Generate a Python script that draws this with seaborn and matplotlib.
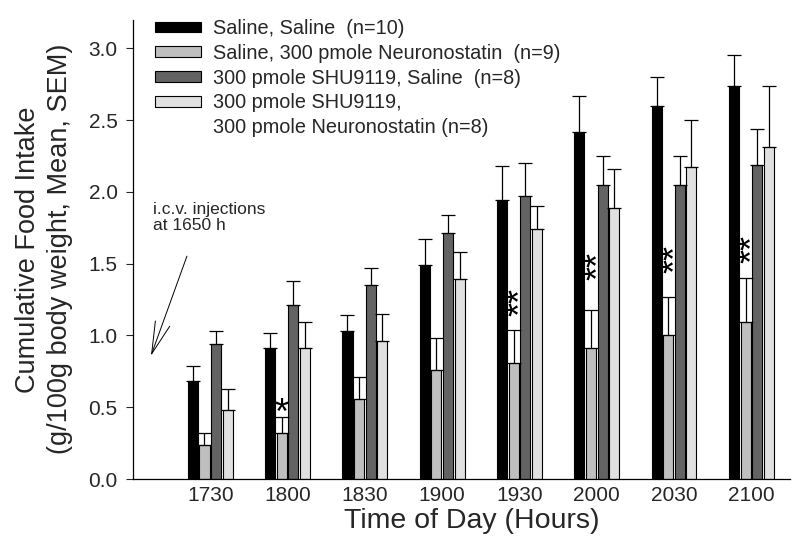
import numpy as np
import pandas as pd
import matplotlib
matplotlib.use('Agg')
import matplotlib.pyplot as plt
from matplotlib.patches import Patch
import seaborn as sns

# data
times = ['1730', '1800', '1830', '1900', '1930', '2000', '2030', '2100']
group_keys = ['sal_sal', 'sal_nst', 'shu_sal', 'shu_nst']
legend_labels = ['Saline, Saline  (n=10)',
                 'Saline, 300 pmole Neuronostatin  (n=9)',
                 '300 pmole SHU9119, Saline  (n=8)',
                 '300 pmole SHU9119,']
legend_extra = '300 pmole Neuronostatin (n=8)'
colors = ['#000000', '#bfbfbf', '#636363', '#e0e0e0']

sal_sal = [0.68, 0.91, 1.03, 1.49, 1.94, 2.42, 2.60, 2.74]
sal_sal_sem = [0.11, 0.11, 0.11, 0.18, 0.24, 0.25, 0.20, 0.21]
sal_nst = [0.24, 0.32, 0.56, 0.76, 0.81, 0.91, 1.00, 1.09]
sal_nst_sem = [0.08, 0.11, 0.15, 0.22, 0.23, 0.27, 0.27, 0.31]
shu_sal = [0.94, 1.21, 1.35, 1.71, 1.97, 2.05, 2.05, 2.19]
shu_sal_sem = [0.09, 0.17, 0.12, 0.13, 0.23, 0.20, 0.20, 0.25]
shu_nst = [0.48, 0.91, 0.96, 1.39, 1.74, 1.89, 2.17, 2.31]
shu_nst_sem = [0.15, 0.18, 0.19, 0.19, 0.16, 0.27, 0.33, 0.43]

# significance marks over the Saline/Neuronostatin bars
sig_marks = ['', '*', '', '', '**', '**', '**', '**']
sig_y = [0, 0.50, 0, 0, 1.23, 1.48, 1.53, 1.60]

means = [sal_sal, sal_nst, shu_sal, shu_nst]
sems = [sal_sal_sem, sal_nst_sem, shu_sal_sem, shu_nst_sem]

df = pd.DataFrame({
    'time': times * 4,
    'value': sum(means, []),
    'group': [g for g in group_keys for _ in times],
})

sns.set_style('white')
plt.rcParams['font.family'] = ['Liberation Sans', 'DejaVu Sans']

fig = plt.figure(figsize=(8, 5.48), dpi=100)
ax = fig.add_axes([0.16625, 0.1259, 0.82125, 0.8385])

sns.barplot(data=df, x='time', y='value', hue='group', hue_order=group_keys,
            palette=colors, width=0.6, gap=0.13, errorbar=None,
            edgecolor='black', linewidth=0.8, legend=False, ax=ax)

# upward-only SEM bars
for cont, sem in zip(ax.containers, sems):
    xs = [b.get_x() + b.get_width() / 2 for b in cont]
    hs = [b.get_height() for b in cont]
    ax.errorbar(xs, hs, yerr=[np.zeros(len(sem)), sem], fmt='none',
                ecolor='black', elinewidth=0.9, capsize=5, capthick=0.9, zorder=3)

# asterisks
for bar, mark, y in zip(ax.containers[1], sig_marks, sig_y):
    xc = bar.get_x() + bar.get_width() / 2
    if mark == '**':
        ax.text(xc + 0.11, y, mark, rotation=90, ha='center', va='center',
                fontsize=26, color='black')
    elif mark == '*':
        ax.text(xc, y - 0.05, mark, ha='center', va='center',
                fontsize=26, color='black')

ax.set_xlim(-1, 7.5)
ax.set_ylim(0, 3.2)
ax.set_yticks([0, 0.5, 1.0, 1.5, 2.0, 2.5, 3.0])
ax.set_yticklabels(['0.0', '0.5', '1.0', '1.5', '2.0', '2.5', '3.0'])
ax.tick_params(axis='y', length=5, width=0.8, pad=6, labelsize=15, direction='out', left=True)
ax.tick_params(axis='x', length=0, pad=5, labelsize=15)
for s in ['top', 'right']:
    ax.spines[s].set_visible(False)
for s in ['left', 'bottom']:
    ax.spines[s].set_color('black')
    ax.spines[s].set_linewidth(0.9)

ax.set_xlabel('Time of Day (Hours)', fontsize=20.5, labelpad=2)
ax.xaxis.label.set_x(0.516)
ax.set_ylabel('Cumulative Food Intake\n(g/100g body weight, Mean, SEM)', fontsize=19.5,
              labelpad=11, linespacing=1.3)

# injection note
ax.text(-0.74, 1.93, 'i.c.v. injections\nat 1650 h', fontsize=12.5, ha='left', va='top',
        linespacing=1.12)
ax.annotate('', xy=(-0.78, 0.84), xytext=(-0.29, 1.57),
            arrowprops=dict(arrowstyle='->,head_length=2.1,head_width=0.5',
                            lw=0.7, color='black', mutation_scale=11))

handles = [Patch(facecolor=c, edgecolor='black', linewidth=0.8) for c in colors]
handles.append(Patch(facecolor='none', edgecolor='none'))
ax.legend(handles, legend_labels + [legend_extra], loc='upper left',
          bbox_to_anchor=(155 / 800, 1 - 19 / 548), bbox_transform=fig.transFigure,
          frameon=False, fontsize=14.3, handlelength=2.3, handleheight=0.45,
          handletextpad=0.6, labelspacing=0.29, borderpad=0, borderaxespad=0)

fig.savefig('out.png', dpi=100)
